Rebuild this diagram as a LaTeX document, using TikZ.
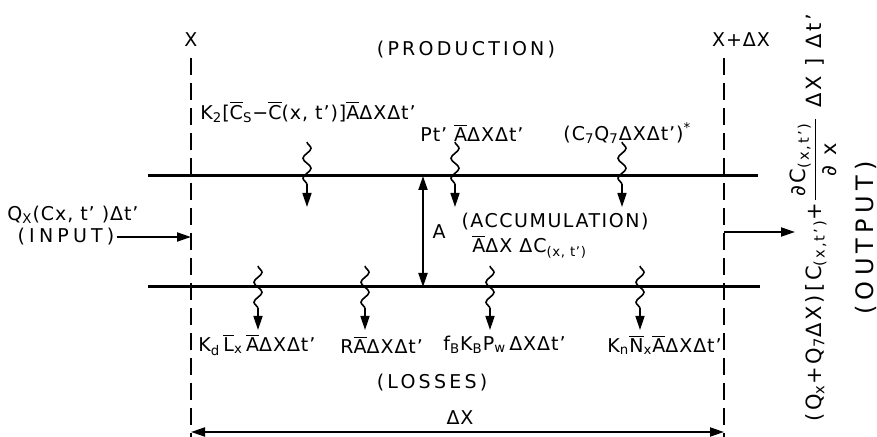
\documentclass[tikz,border=0pt]{standalone}
\usepackage{amsmath}
\usepackage{fontspec}
\setmainfont{DejaVu Sans}[LetterSpace=5]
\usetikzlibrary{arrows.meta,decorations.pathmorphing}
\newcommand{\ob}[1]{\ensuremath{\overline{\mbox{#1}}}}
\newcommand{\sbs}[1]{\textsubscript{#1}}
\newcommand{\spaced}[2][17]{{\addfontfeature{LetterSpace=#1}#2}}
\newcommand{\bigfrac}[2]{\ensuremath{\genfrac{}{}{0.7pt}{0}{\mbox{\,#1\,}}{\mbox{#2}}}}

\begin{document}
\begin{tikzpicture}[x=0.5pt, y=-0.5pt, >={Triangle[length=7pt,width=4.5pt]},
		font=\fontsize{9.5}{11}\selectfont,
		wall/.style={line width=1.3pt, dash pattern=on 8.5pt off 4pt},
		channel/.style={line width=1.5pt},
		flow/.style={->, line width=1pt},
		wavyarrow/.style={->, line width=0.8pt, decorate,
			decoration={snake, amplitude=2pt, segment length=10pt, post length=9pt}},
		lbl/.style={inner sep=0pt, anchor=west}]
	\useasboundingbox (0,0) rectangle (877,437);

	% section boundaries
	\coordinate (xl top) at (191,58);  \coordinate (xl bot) at (191,437);
	\coordinate (xr top) at (724,58);  \coordinate (xr bot) at (724,437);
	\draw[wall] (xl top) -- (xl bot);
	\draw[wall] (xr top) -- (xr bot);
	\node (xl) at (191,40) {X};
	\node (xr) at (741,40) {X+ΔX};

	% channel
	\coordinate (top w) at (148,176);  \coordinate (top e) at (758,176);
	\coordinate (bot w) at (148,287);  \coordinate (bot e) at (760,287);
	\draw[channel] (top w) -- (top e);
	\draw[channel] (bot w) -- (bot e);

	\coordinate (a top) at (423,176);  \coordinate (a bot) at (423,287);
	\draw[<->, line width=1pt] (a top) -- (a bot) node[midway, right=1pt] (alabel) {A};

	% production and losses
	\foreach \px/\pn in {307/1,455/2,622/3} {
		\coordinate (prod\pn a) at (\px,142);
		\coordinate (prod\pn b) at (\px,207);
		\draw[wavyarrow] (prod\pn a) -- (prod\pn b);
	}
	\foreach \lx/\ln in {258/1,365/2,490/3,640/4} {
		\coordinate (loss\ln a) at (\lx,266);
		\coordinate (loss\ln b) at (\lx,330);
		\draw[wavyarrow] (loss\ln a) -- (loss\ln b);
	}

	\node (prodlbl) at (466,50) {\spaced{(PRODUCTION)}};
	\node[lbl] (kz) at (200,112) {K\sbs{2}[\ob{C}\sbs{S}−\ob{C}(x, t')]\ob{A}ΔXΔt'};
	\node[lbl] (pt) at (420,133) {Pt' \ob{A}ΔXΔt'};
	\node[lbl] (cq) at (563,133) {(C\sbs{7}Q\sbs{7}ΔXΔt')\textsuperscript{*}};

	\node (acclbl) at (555,222) {\spaced[8]{(ACCUMULATION)}};
	\node[lbl] (acc) at (472,247) {\ob{A}ΔX ΔC\sbs{(x, t')}};

	\node[lbl] (kd) at (198,345) {K\sbs{d}\,\ob{L}\sbs{x}\,\ob{A}ΔXΔt'};
	\node[lbl] (ra) at (340,345) {R\ob{A}ΔXΔt'};
	\node[lbl] (fb) at (443,345) {f\sbs{B}K\sbs{B}P\sbs{w}\,ΔXΔt'};
	\node[lbl] (kn) at (607,345) {K\sbs{n}\ob{N}\sbs{x}\ob{A}ΔXΔt'};
	\node (losslbl) at (432,383) {\spaced{(LOSSES)}};

	% input and output
	\node (inq) at (73,215) {Q\sbs{X}(Cx, t' )Δt'};
	\node[inner sep=1pt] (inlbl) at (66,237) {\spaced[22]{(INPUT)}};
	\coordinate (in end) at (191,237);
	\draw[flow] (inlbl.east) -- (in end);

	\coordinate (out start) at (724,232);  \coordinate (out end) at (795,232);
	\draw[flow] (out start) -- (out end);
	\node[rotate=90, font=\fontsize{10.5}{12}\selectfont] (outq) at (813,218)
		{\spaced[13]{(Q\sbs{x}+Q\sbs{7}ΔX)\,[C\sbs{(x,t')}+\bigfrac{∂C\sbs{(x,t')}}{∂ x} ΔX ]~Δt'}};
	\node[rotate=90, font=\fontsize{12}{14}\selectfont] (outlbl) at (866,238) {\spaced[22]{(OUTPUT)}};

	% section length
	\coordinate (dx l) at (191,432);  \coordinate (dx r) at (724,432);
	\draw[<->, line width=1pt] (dx l) -- (dx r);
	\node (dxlbl) at (460,418) {ΔX};
\end{tikzpicture}
\end{document}
